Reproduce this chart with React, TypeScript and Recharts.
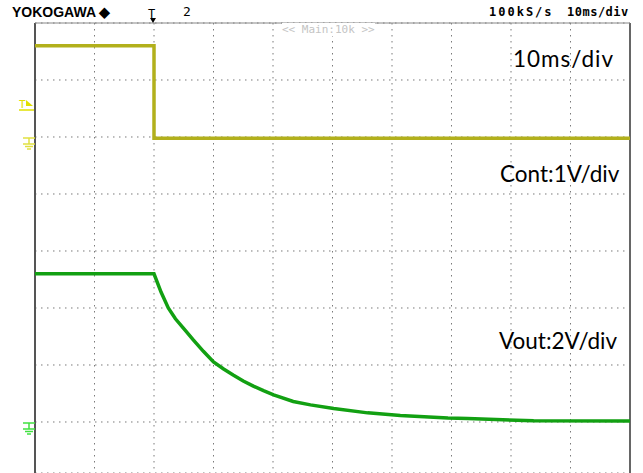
import { LineChart, Line, XAxis, YAxis, CartesianGrid, ReferenceLine } from "recharts";

// time base: 10 ms/div, 10 divisions
const timeTicks = [0, 10, 20, 30, 40, 50, 60, 70, 80, 90, 100];

// Cont (CH1, 1 V/div)
const contTime = [0, 20, 20, 100];
const contVolts = [1.6, 1.6, -0.02, -0.02];

// Vout (CH2, 2 V/div)
const voutTime = [0, 20, 21.2, 22.4, 23.6, 24.9, 26.6, 28.3, 30, 31.7, 33.3, 35, 36.7, 38.4, 40.1, 43.4, 46.3, 50.2, 55.9, 61.4, 69.4, 72.7, 83.8, 100];
const voutVolts = [5.2, 5.2, 4.55, 4.0, 3.62, 3.3, 2.88, 2.48, 2.11, 1.86, 1.65, 1.44, 1.26, 1.1, 0.95, 0.72, 0.6, 0.47, 0.32, 0.23, 0.14, 0.12, 0.04, 0.035];
const voutTicks = [0, 2, 4, 6, 8, 10, 12];

const contData = contTime.map((t, i) => ({ t, v: contVolts[i] }));
const voutData = voutTime.map((t, i) => ({ t, v: voutVolts[i] }));

const mono = "'DejaVu Sans Mono', monospace";
const label = "Lato, 'Open Sans', sans-serif";

function GroundMark({ x, y, color }: { x: number; y: number; color: string }) {
  return (
    <g stroke={color} strokeWidth={1.5}>
      <line x1={x - 6} y1={y} x2={x + 6} y2={y} />
      <line x1={x} y1={y} x2={x} y2={y + 6} />
      <line x1={x - 6} y1={y + 6} x2={x + 6} y2={y + 6} />
      <line x1={x - 4} y1={y + 8.5} x2={x + 4} y2={y + 8.5} />
      <line x1={x - 2} y1={y + 11} x2={x + 2} y2={y + 11} />
    </g>
  );
}

export default function App() {
  return (
    <div style={{ position: "absolute", left: 0, top: 0, width: 643, height: 473, overflow: "hidden", background: "#fff" }}>
      <LineChart width={643} height={473} margin={{ top: 23, right: 13, bottom: 0, left: 35 }}>
        <CartesianGrid yAxisId="vout" stroke="#7a7a7a" strokeDasharray="1.5 4.5" />
        <XAxis dataKey="t" type="number" domain={[0, 100]} ticks={timeTicks} hide allowDataOverflow />
        <YAxis yAxisId="vout" type="number" domain={[-1.79, 14]} ticks={voutTicks} hide allowDataOverflow />
        <YAxis yAxisId="cont" type="number" domain={[-5.895, 2]} hide allowDataOverflow />
        <ReferenceLine yAxisId="vout" x={0} stroke="#555" strokeWidth={2} />
        <ReferenceLine yAxisId="vout" x={100} stroke="#666" strokeWidth={2} />
        <ReferenceLine yAxisId="vout" y={14} stroke="#888" strokeWidth={1} />
        <Line
          yAxisId="cont"
          data={contData}
          dataKey="v"
          type="linear"
          stroke="#b2b01c"
          strokeWidth={3.5}
          dot={false}
          isAnimationActive={false}
        />
        <Line
          yAxisId="vout"
          data={voutData}
          dataKey="v"
          type="linear"
          stroke="#12a012"
          strokeWidth={3.5}
          dot={false}
          isAnimationActive={false}
        />
      </LineChart>

      <svg width={643} height={473} style={{ position: "absolute", left: 0, top: 0, pointerEvents: "none" }}>
        <text x={19} y={108} fill="#e0e000" fontFamily={mono} fontSize={11}>T</text>
        <path d="M26 100 L33 106 L26 106 Z" fill="#e0e000" />
        <line x1={19} y1={110} x2={34} y2={110} stroke="#e0e000" strokeWidth={1.5} />
        <GroundMark x={29} y={138} color="#e0e040" />
        <GroundMark x={29} y={423} color="#40e040" />
        <text x={148} y={18} fill="#000" fontFamily={mono} fontSize={12}>T</text>
        <path d="M150 18 L156 18 L153 23 Z" fill="#000" />
      </svg>

      <div style={{ position: "absolute", left: 12, top: 4, fontFamily: "'Liberation Sans', sans-serif", fontWeight: "bold", fontSize: 14, color: "#000" }}>
        YOKOGAWA ◆
      </div>
      <div style={{ position: "absolute", left: 183, top: 4, fontFamily: mono, fontSize: 13, color: "#000" }}>2</div>
      <div style={{ position: "absolute", left: 489, top: 5, fontFamily: mono, fontWeight: "bold", fontSize: 12, letterSpacing: 2, color: "#000" }}>
        100kS/s
      </div>
      <div style={{ position: "absolute", left: 567, top: 5, fontFamily: mono, fontWeight: "bold", fontSize: 12, letterSpacing: 0.5, color: "#000" }}>
        10ms/div
      </div>
      <div style={{ position: "absolute", left: 282, top: 23, fontFamily: mono, fontSize: 11, color: "#c4c4c4", background: "#fff" }}>
        {"<< Main:10k >>"}
      </div>
      <div style={{ position: "absolute", left: 513, top: 45, fontFamily: label, fontSize: 22.5, letterSpacing: 1, color: "#000" }}>10ms/div</div>
      <div style={{ position: "absolute", left: 500, top: 160, fontFamily: label, fontSize: 22.5, color: "#000" }}>Cont:1V/div</div>
      <div style={{ position: "absolute", left: 499, top: 327, fontFamily: label, fontSize: 22.5, color: "#000" }}>Vout:2V/div</div>
    </div>
  );
}
